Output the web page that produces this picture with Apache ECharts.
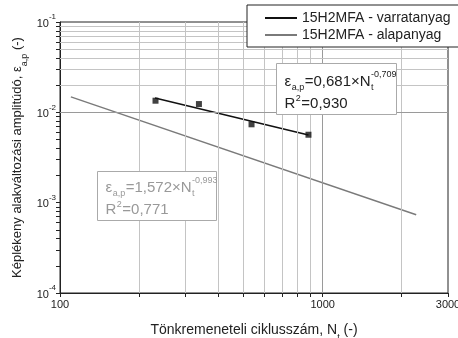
<!DOCTYPE html>
<html>
<head>
<meta charset="utf-8">
<script src="https://cdn.jsdelivr.net/npm/echarts@6/dist/echarts.min.js"></script>
<style>html,body{margin:0;padding:0;background:#fff}#c{width:458px;height:338px}</style>
</head>
<body>
<div id="c"></div>
<script>
// ---- data ----
var pointsN   = [231, 338, 536, 883];
var pointsEps = [0.01345, 0.01235, 0.00737, 0.00565];
var varratFitN   = [230, 883];
var varratFitEps = [0.0144, 0.0056];
var alapFitN   = [110, 2270];
var alapFitEps = [0.0148, 0.000735];
var seriesNames = ['15H2MFA - varratanyag', '15H2MFA - alapanyag'];
var xTickValues = [100, 1000, 3000];
var xMinorValues = [100, 200, 300, 400, 500, 600, 700, 800, 900, 1000, 2000, 3000];
var xGridValues = [200, 300, 400, 500, 600, 700, 800, 900, 1000, 2000];
var yTickValues = [1e-4, 1e-3, 1e-2, 1e-1];
var yTickExponents = ['-4', '-3', '-2', '-1'];
var yMinorValues = [1e-4,2e-4,3e-4,4e-4,5e-4,6e-4,7e-4,8e-4,9e-4,
                    1e-3,2e-3,3e-3,4e-3,5e-3,6e-3,7e-3,8e-3,9e-3,
                    1e-2,2e-2,3e-2,4e-2,5e-2,6e-2,7e-2,8e-2,9e-2,1e-1];
var yGridValues = [2e-4,3e-4,4e-4,5e-4,6e-4,7e-4,8e-4,9e-4,
                   1e-3,2e-3,3e-3,4e-3,5e-3,6e-3,7e-3,8e-3,9e-3,
                   1e-2,2e-2,3e-2,4e-2,5e-2,6e-2,7e-2,8e-2,9e-2];
var fit1Text = {coef: '0,681', exp: '-0,709', r2: '0,930'};
var fit2Text = {coef: '1,572', exp: '-0,993', r2: '0,771'};

var FONT = "'Liberation Sans', Arial, sans-serif";
function pairs(a, b) { return a.map(function (v, i) { return [v, b[i]]; }); }

var mctx = document.createElement('canvas').getContext('2d');
function tw(t, size) { mctx.font = size + 'px ' + FONT; return mctx.measureText(t).width; }

// build an annotation box (equation + R^2) as graphic children
function annotation(left, top, w, h, fit, color, y1, y2) {
  var M = 15, S = 9;
  var ch = [{type: 'rect', z: 10, shape: {x: 0, y: 0, width: w, height: h},
             style: {fill: '#fff', stroke: '#aaa', lineWidth: 1}}];
  function t(txt, x, y, size) {
    ch.push({type: 'text', z: 11, x: x, y: y,
      style: {text: txt, fontFamily: FONT, fontSize: size, fill: color, verticalAlign: 'middle', align: 'left'}});
  }
  var x = 8;
  t('ε', x, y1, M); x += tw('ε', M) + 0.5;
  t('a,p', x, y1 + 6, S); x += tw('a,p', S) + 0.5;
  var main = '=' + fit.coef + '×N';
  t(main, x, y1, M); x += tw(main, M) + 0.5;
  t('t', x, y1 + 6, S);
  t(fit.exp, x, y1 - 7, S);
  x = 8;
  t('R', x, y2, M); x += tw('R', M) + 0.5;
  t('2', x, y2 - 5, S); x += tw('2', S) + 0.5;
  t('=' + fit.r2, x, y2, M);
  return {type: 'group', left: left, top: top, z: 10, children: ch};
}

var chart = echarts.init(document.getElementById('c'), null, {renderer: 'canvas'});

var gridLines = xGridValues.map(function (v) {
  return {xAxis: v, lineStyle: {color: v === 1000 ? '#9a9a9a' : '#c4c4c4'}};
}).concat(yGridValues.map(function (v) {
  var major = (v === 1e-2 || v === 1e-3);
  return {yAxis: v, lineStyle: {color: major ? '#9a9a9a' : '#c4c4c4'}};
}));

var GRID = {left: 60, right: 10, top: 22, bottom: 45};

chart.setOption({
  animation: false,
  backgroundColor: '#fff',
  textStyle: {fontFamily: FONT},
  grid: {left: GRID.left, right: GRID.right, top: GRID.top, bottom: GRID.bottom, outerBoundsMode: 'none', containLabel: false,
         show: true, borderColor: '#222', borderWidth: 1, backgroundColor: 'transparent'},
  legend: {
    data: seriesNames,
    orient: 'vertical',
    left: 247, top: 5,
    padding: [5, 10, 4, 18],
    icon: 'rect',
    itemWidth: 32, itemHeight: 2, itemGap: 1,
    backgroundColor: '#fff',
    borderColor: '#222', borderWidth: 1,
    textStyle: {fontFamily: FONT, fontSize: 14, color: '#222', lineHeight: 16},
    z: 20
  },
  xAxis: {
    type: 'log', logBase: 10, min: 100, max: 3000,
    name: '{a|Tönkremeneteli ciklusszám, N}{s|t}{a| (-)}',
    nameLocation: 'middle', nameGap: 29,
    nameTextStyle: {rich: {
      a: {fontFamily: FONT, fontSize: 14, color: '#222', lineHeight: 16},
      s: {fontFamily: FONT, fontSize: 9, color: '#222', lineHeight: 16, verticalAlign: 'bottom', padding: [0, 0, -4, 0]}
    }},
    axisLine: {show: true, lineStyle: {color: '#222', width: 1}},
    axisTick: {show: true, inside: false, length: 4, customValues: xMinorValues, lineStyle: {color: '#222'}},
    axisLabel: {customValues: xTickValues, margin: 6, fontFamily: FONT, fontSize: 11, color: '#222',
      formatter: function (v) { return String(v); }},
    splitLine: {show: false},
    minorTick: {show: false}, minorSplitLine: {show: false}
  },
  yAxis: {
    type: 'log', logBase: 10, min: 1e-4, max: 1e-1,
    axisLine: {show: true, lineStyle: {color: '#222', width: 1}},
    axisTick: {show: true, inside: false, length: 4, customValues: yMinorValues, lineStyle: {color: '#222'}},
    axisLabel: {customValues: yTickValues, margin: 4, color: '#222',
      formatter: function (v) {
        var i = yTickValues.indexOf(v);
        var e = i >= 0 ? yTickExponents[i] : '';
        return '{b|10}{s|' + e + '}';
      },
      rich: {
        b: {fontFamily: FONT, fontSize: 11, color: '#222', lineHeight: 18, verticalAlign: 'bottom', padding: [0, 0, 2, 0]},
        s: {fontFamily: FONT, fontSize: 8, color: '#222', lineHeight: 18, verticalAlign: 'top'}
      }
    },
    splitLine: {show: false},
    minorTick: {show: false}, minorSplitLine: {show: false}
  },
  series: [
    {
      name: 'grid', type: 'line', data: [], silent: true, z: 1,
      markLine: {silent: true, symbol: 'none', label: {show: false}, animation: false,
        lineStyle: {type: 'solid', width: 1, color: '#c4c4c4'}, data: gridLines}
    },
    {
      name: seriesNames[1], type: 'line', data: pairs(alapFitN, alapFitEps),
      symbol: 'none', z: 3, color: '#7a7a7a',
      lineStyle: {color: '#7a7a7a', width: 1.4}
    },
    {
      name: seriesNames[0], type: 'line', data: pairs(varratFitN, varratFitEps),
      symbol: 'none', z: 4, color: '#111',
      lineStyle: {color: '#111', width: 1.6}
    },
    {
      name: 'pontok', type: 'scatter', data: pairs(pointsN, pointsEps),
      symbol: 'rect', symbolSize: 6, z: 5,
      itemStyle: {color: '#111'}
    }
  ],
  graphic: [
    annotation(276, 63, 120, 51, fit1Text, '#222', 18, 40),
    annotation(97, 171, 119, 49, fit2Text, '#999', 16, 38),
    {
      type: 'text', z: 5,
      x: 17, y: GRID.top + (338 - GRID.top - GRID.bottom) / 2,
      rotation: Math.PI / 2,
      style: {
        text: '{a|Képlékeny alakváltozási amplitúdó, ε}{s|a,p}{a| (-)}',
        align: 'center', verticalAlign: 'middle',
        rich: {
          a: {fontFamily: FONT, fontSize: 13, fill: '#222', lineHeight: 16},
          s: {fontFamily: FONT, fontSize: 9, fill: '#222', lineHeight: 16, verticalAlign: 'bottom', padding: [0, 0, -4, 0]}
        }
      }
    }
  ]
});
</script>
</body>
</html>
